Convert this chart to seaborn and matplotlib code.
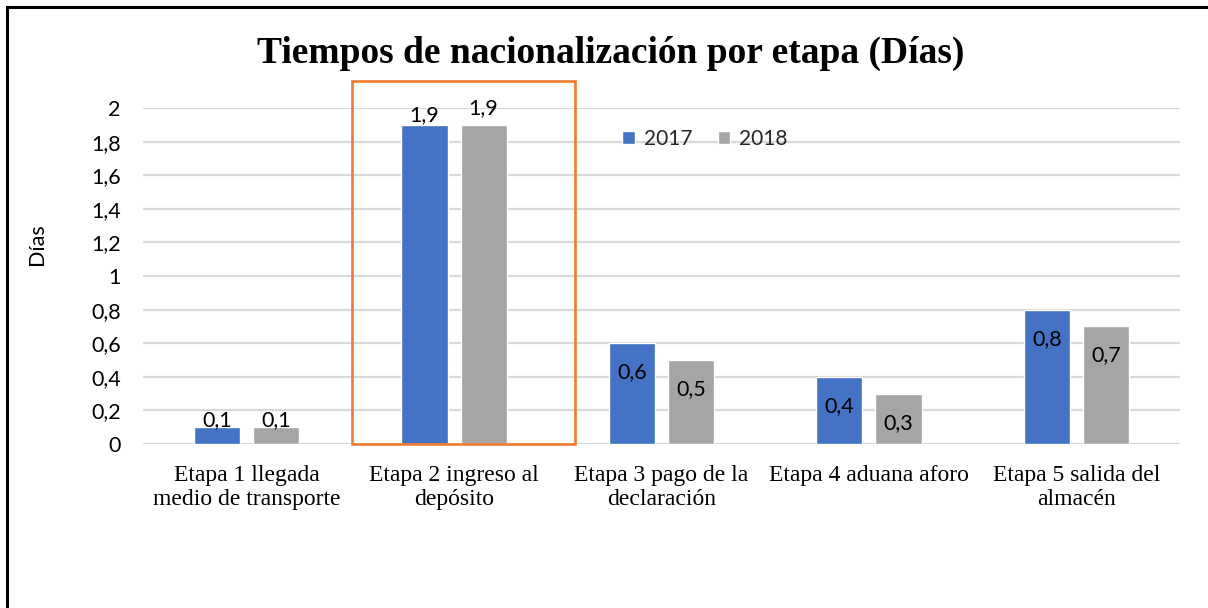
import matplotlib
matplotlib.use("Agg")
import matplotlib.pyplot as plt
import matplotlib.patches as mpatches
import pandas as pd
import seaborn as sns

# Data
etapas = [
    "Etapa 1 llegada\nmedio de transporte",
    "Etapa 2 ingreso al\ndepósito",
    "Etapa 3 pago de la\ndeclaración",
    "Etapa 4 aduana aforo",
    "Etapa 5 salida del\nalmacén",
]
anios = ["2017", "2018"]
dias_2017 = [0.1, 1.9, 0.6, 0.4, 0.8]
dias_2018 = [0.1, 1.9, 0.5, 0.3, 0.7]
y_ticks = [0, 0.2, 0.4, 0.6, 0.8, 1, 1.2, 1.4, 1.6, 1.8, 2]

df = pd.DataFrame({
    "Etapa": etapas * 2,
    "Año": [anios[0]] * len(etapas) + [anios[1]] * len(etapas),
    "Días": dias_2017 + dias_2018,
})

sns.set_theme(style="white")
SANS = "Lato"
SERIF = "Liberation Serif"
plt.rcParams["font.family"] = [SANS, "DejaVu Sans"]

colores = {"2017": "#4472C4", "2018": "#A5A5A5"}

fig = plt.figure(figsize=(12.08, 6.08), dpi=100)
ax = fig.add_axes([143 / 1208, 164 / 608, 1037 / 1208, 336 / 608])

sns.barplot(data=df, x="Etapa", y="Días", hue="Año", order=etapas,
            hue_order=anios, palette=colores, width=0.57, gap=0.22,
            saturation=1, errorbar=None, ax=ax)

ax.set_ylim(0, 2)
ax.set_yticks(y_ticks)
ax.set_yticklabels([f"{t:g}".replace(".", ",") for t in y_ticks])
ax.yaxis.grid(True, color="#D9D9D9", linewidth=1.6)
ax.set_axisbelow(True)
for s in ax.spines.values():
    s.set_visible(False)
ax.tick_params(axis="y", length=0, pad=16, labelsize=15.5, labelcolor="black")
ax.tick_params(axis="x", length=0, pad=15)
for lbl in ax.get_xticklabels():
    lbl.set_fontfamily(SERIF)
    lbl.set_fontsize(17)
    lbl.set_color("black")
    lbl.set_linespacing(1.2)
ax.set_xlabel("")
ax.set_ylabel("Días", fontsize=15.5, color="black")
ax.yaxis.set_label_coords(-0.0926, 0.595)

# Value labels: above the bar for the first two stages, inside for the rest
label_dentro = [False, False, True, True, True]
offset_fuera = {"2017": [7, 10], "2018": [7, 17]}
for anio, cont in zip(anios, ax.containers):
    for i, bar in enumerate(cont):
        val = bar.get_height()
        x = bar.get_x() + bar.get_width() / 2
        if label_dentro[i]:
            dy = -29
        else:
            dy = offset_fuera[anio][i]
        ax.annotate(f"{val:g}".replace(".", ","), (x, val), xytext=(0, dy),
                    textcoords="offset pixels", ha="center", va="center",
                    fontsize=15.5, color="black")

# Highlight box around stage 2
ax.add_patch(mpatches.Rectangle((0.508, 0), 1.075, 2.16, fill=False,
                                edgecolor="#ED7D31", linewidth=1.9,
                                clip_on=False, zorder=5))

handles, labels = ax.get_legend_handles_labels()
ax.legend(handles, labels, loc="center", bbox_to_anchor=(0.542, 0.908),
          ncol=2, frameon=False, fontsize=15, handlelength=0.6,
          handleheight=0.6, handletextpad=0.45, columnspacing=1.2)

fig.text(611 / 1208, 1 - 53 / 608, "Tiempos de nacionalización por etapa (Días)",
         ha="center", va="center", fontsize=27, fontweight="bold",
         family=SERIF, color="black")

# Chart frame
fig.add_artist(mpatches.Rectangle((7 / 1208, -0.05), 1.05, 1 - 7 / 608 + 0.05,
                                  transform=fig.transFigure, fill=False,
                                  edgecolor="black", linewidth=2.2))

fig.savefig("out.png", dpi=100)
